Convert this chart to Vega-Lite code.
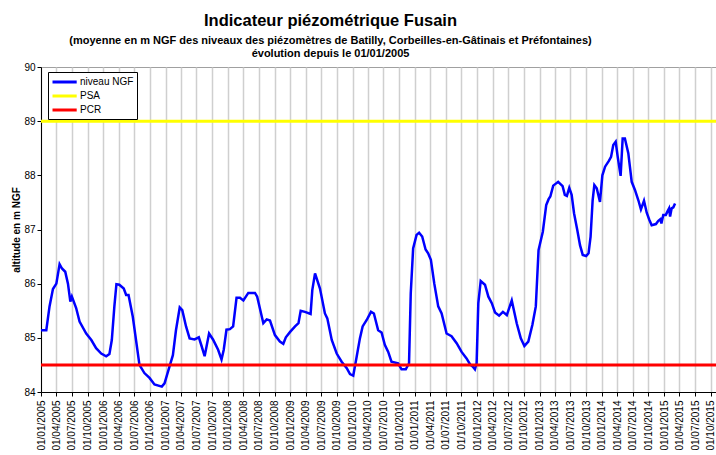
{
  "$schema": "https://vega.github.io/schema/vega-lite/v6.json",
  "width": 675,
  "height": 325,
  "autosize": {"type": "none"},
  "padding": {"left": 41, "top": 67, "right": 0, "bottom": 63},
  "background": "white",
  "config": {
    "font": "Liberation Sans",
    "view": {"stroke": "#A0A0A0", "strokeWidth": 1}
  },
  "title": {
    "text": "Indicateur piézométrique Fusain",
    "subtitle": [
      "(moyenne en m NGF des niveaux des piézomètres de Batilly, Corbeilles-en-Gâtinais et Préfontaines)",
      "évolution depuis le 01/01/2005"
    ],
    "font": "Liberation Sans",
    "subtitleFont": "Liberation Sans",
    "fontSize": 16.5,
    "fontWeight": "bold",
    "color": "black",
    "subtitleFontSize": 11,
    "subtitleFontWeight": "bold",
    "subtitleColor": "black",
    "subtitlePadding": 5,
    "subtitleLineHeight": 13.5,
    "anchor": "middle",
    "dx": -48,
    "offset": 3
  },
  "datasets": {
    "niveau": [
      {"date": "2005-01-01", "value": 85.14, "series": "niveau NGF"},
      {"date": "2005-02-01", "value": 85.14, "series": "niveau NGF"},
      {"date": "2005-02-20", "value": 85.58, "series": "niveau NGF"},
      {"date": "2005-03-12", "value": 85.90, "series": "niveau NGF"},
      {"date": "2005-04-01", "value": 86.00, "series": "niveau NGF"},
      {"date": "2005-04-20", "value": 86.36, "series": "niveau NGF"},
      {"date": "2005-05-04", "value": 86.28, "series": "niveau NGF"},
      {"date": "2005-05-23", "value": 86.22, "series": "niveau NGF"},
      {"date": "2005-06-08", "value": 86.00, "series": "niveau NGF"},
      {"date": "2005-06-22", "value": 85.67, "series": "niveau NGF"},
      {"date": "2005-07-01", "value": 85.76, "series": "niveau NGF"},
      {"date": "2005-07-26", "value": 85.55, "series": "niveau NGF"},
      {"date": "2005-08-15", "value": 85.30, "series": "niveau NGF"},
      {"date": "2005-09-23", "value": 85.08, "series": "niveau NGF"},
      {"date": "2005-10-23", "value": 84.96, "series": "niveau NGF"},
      {"date": "2005-11-20", "value": 84.81, "series": "niveau NGF"},
      {"date": "2005-12-20", "value": 84.71, "series": "niveau NGF"},
      {"date": "2006-01-18", "value": 84.66, "series": "niveau NGF"},
      {"date": "2006-02-06", "value": 84.70, "series": "niveau NGF"},
      {"date": "2006-02-20", "value": 84.96, "series": "niveau NGF"},
      {"date": "2006-03-07", "value": 85.58, "series": "niveau NGF"},
      {"date": "2006-03-19", "value": 85.99, "series": "niveau NGF"},
      {"date": "2006-04-05", "value": 85.98, "series": "niveau NGF"},
      {"date": "2006-05-01", "value": 85.91, "series": "niveau NGF"},
      {"date": "2006-05-15", "value": 85.79, "series": "niveau NGF"},
      {"date": "2006-05-29", "value": 85.79, "series": "niveau NGF"},
      {"date": "2006-06-23", "value": 85.39, "series": "niveau NGF"},
      {"date": "2006-08-01", "value": 84.50, "series": "niveau NGF"},
      {"date": "2006-08-30", "value": 84.35, "series": "niveau NGF"},
      {"date": "2006-09-29", "value": 84.26, "series": "niveau NGF"},
      {"date": "2006-10-28", "value": 84.14, "series": "niveau NGF"},
      {"date": "2006-12-10", "value": 84.10, "series": "niveau NGF"},
      {"date": "2006-12-26", "value": 84.16, "series": "niveau NGF"},
      {"date": "2007-01-24", "value": 84.47, "series": "niveau NGF"},
      {"date": "2007-02-13", "value": 84.68, "series": "niveau NGF"},
      {"date": "2007-03-03", "value": 85.14, "series": "niveau NGF"},
      {"date": "2007-03-25", "value": 85.56, "series": "niveau NGF"},
      {"date": "2007-04-09", "value": 85.51, "series": "niveau NGF"},
      {"date": "2007-05-01", "value": 85.21, "series": "niveau NGF"},
      {"date": "2007-05-22", "value": 84.99, "series": "niveau NGF"},
      {"date": "2007-06-20", "value": 84.97, "series": "niveau NGF"},
      {"date": "2007-07-15", "value": 85.01, "series": "niveau NGF"},
      {"date": "2007-08-01", "value": 84.84, "series": "niveau NGF"},
      {"date": "2007-08-18", "value": 84.66, "series": "niveau NGF"},
      {"date": "2007-09-13", "value": 85.08, "series": "niveau NGF"},
      {"date": "2007-10-06", "value": 84.97, "series": "niveau NGF"},
      {"date": "2007-11-05", "value": 84.78, "series": "niveau NGF"},
      {"date": "2007-11-25", "value": 84.60, "series": "niveau NGF"},
      {"date": "2007-12-08", "value": 84.78, "series": "niveau NGF"},
      {"date": "2007-12-24", "value": 85.15, "series": "niveau NGF"},
      {"date": "2008-01-13", "value": 85.16, "series": "niveau NGF"},
      {"date": "2008-02-01", "value": 85.21, "series": "niveau NGF"},
      {"date": "2008-02-21", "value": 85.74, "series": "niveau NGF"},
      {"date": "2008-03-12", "value": 85.74, "series": "niveau NGF"},
      {"date": "2008-04-01", "value": 85.69, "series": "niveau NGF"},
      {"date": "2008-04-30", "value": 85.83, "series": "niveau NGF"},
      {"date": "2008-06-08", "value": 85.83, "series": "niveau NGF"},
      {"date": "2008-06-21", "value": 85.76, "series": "niveau NGF"},
      {"date": "2008-07-27", "value": 85.27, "series": "niveau NGF"},
      {"date": "2008-08-16", "value": 85.34, "series": "niveau NGF"},
      {"date": "2008-09-04", "value": 85.32, "series": "niveau NGF"},
      {"date": "2008-10-03", "value": 85.05, "series": "niveau NGF"},
      {"date": "2008-11-01", "value": 84.93, "series": "niveau NGF"},
      {"date": "2008-11-21", "value": 84.89, "series": "niveau NGF"},
      {"date": "2008-12-06", "value": 85.01, "series": "niveau NGF"},
      {"date": "2008-12-31", "value": 85.11, "series": "niveau NGF"},
      {"date": "2009-01-29", "value": 85.21, "series": "niveau NGF"},
      {"date": "2009-02-18", "value": 85.27, "series": "niveau NGF"},
      {"date": "2009-03-03", "value": 85.50, "series": "niveau NGF"},
      {"date": "2009-03-28", "value": 85.48, "series": "niveau NGF"},
      {"date": "2009-04-30", "value": 85.44, "series": "niveau NGF"},
      {"date": "2009-05-10", "value": 85.88, "series": "niveau NGF"},
      {"date": "2009-05-26", "value": 86.19, "series": "niveau NGF"},
      {"date": "2009-06-24", "value": 85.91, "series": "niveau NGF"},
      {"date": "2009-07-23", "value": 85.45, "series": "niveau NGF"},
      {"date": "2009-08-06", "value": 85.36, "series": "niveau NGF"},
      {"date": "2009-09-01", "value": 84.96, "series": "niveau NGF"},
      {"date": "2009-09-30", "value": 84.71, "series": "niveau NGF"},
      {"date": "2009-10-29", "value": 84.56, "series": "niveau NGF"},
      {"date": "2009-11-28", "value": 84.44, "series": "niveau NGF"},
      {"date": "2009-12-17", "value": 84.33, "series": "niveau NGF"},
      {"date": "2010-01-05", "value": 84.30, "series": "niveau NGF"},
      {"date": "2010-01-25", "value": 84.65, "series": "niveau NGF"},
      {"date": "2010-02-13", "value": 84.99, "series": "niveau NGF"},
      {"date": "2010-03-01", "value": 85.21, "series": "niveau NGF"},
      {"date": "2010-03-25", "value": 85.33, "series": "niveau NGF"},
      {"date": "2010-04-19", "value": 85.48, "series": "niveau NGF"},
      {"date": "2010-05-06", "value": 85.45, "series": "niveau NGF"},
      {"date": "2010-05-31", "value": 85.14, "series": "niveau NGF"},
      {"date": "2010-06-20", "value": 85.10, "series": "niveau NGF"},
      {"date": "2010-07-09", "value": 84.87, "series": "niveau NGF"},
      {"date": "2010-07-29", "value": 84.74, "series": "niveau NGF"},
      {"date": "2010-08-17", "value": 84.56, "series": "niveau NGF"},
      {"date": "2010-09-25", "value": 84.53, "series": "niveau NGF"},
      {"date": "2010-10-15", "value": 84.42, "series": "niveau NGF"},
      {"date": "2010-11-09", "value": 84.42, "series": "niveau NGF"},
      {"date": "2010-11-28", "value": 84.53, "series": "niveau NGF"},
      {"date": "2010-12-08", "value": 85.82, "series": "niveau NGF"},
      {"date": "2010-12-22", "value": 86.65, "series": "niveau NGF"},
      {"date": "2011-01-11", "value": 86.90, "series": "niveau NGF"},
      {"date": "2011-01-26", "value": 86.94, "series": "niveau NGF"},
      {"date": "2011-02-13", "value": 86.87, "series": "niveau NGF"},
      {"date": "2011-03-05", "value": 86.63, "series": "niveau NGF"},
      {"date": "2011-03-20", "value": 86.56, "series": "niveau NGF"},
      {"date": "2011-04-05", "value": 86.44, "series": "niveau NGF"},
      {"date": "2011-04-25", "value": 86.00, "series": "niveau NGF"},
      {"date": "2011-05-18", "value": 85.58, "series": "niveau NGF"},
      {"date": "2011-06-07", "value": 85.45, "series": "niveau NGF"},
      {"date": "2011-07-06", "value": 85.08, "series": "niveau NGF"},
      {"date": "2011-08-04", "value": 85.03, "series": "niveau NGF"},
      {"date": "2011-09-03", "value": 84.90, "series": "niveau NGF"},
      {"date": "2011-10-02", "value": 84.74, "series": "niveau NGF"},
      {"date": "2011-10-31", "value": 84.62, "series": "niveau NGF"},
      {"date": "2011-11-21", "value": 84.51, "series": "niveau NGF"},
      {"date": "2011-12-06", "value": 84.47, "series": "niveau NGF"},
      {"date": "2011-12-19", "value": 84.42, "series": "niveau NGF"},
      {"date": "2011-12-29", "value": 84.53, "series": "niveau NGF"},
      {"date": "2012-01-08", "value": 85.64, "series": "niveau NGF"},
      {"date": "2012-01-22", "value": 86.05, "series": "niveau NGF"},
      {"date": "2012-02-16", "value": 85.98, "series": "niveau NGF"},
      {"date": "2012-03-07", "value": 85.76, "series": "niveau NGF"},
      {"date": "2012-03-27", "value": 85.64, "series": "niveau NGF"},
      {"date": "2012-04-15", "value": 85.47, "series": "niveau NGF"},
      {"date": "2012-05-09", "value": 85.41, "series": "niveau NGF"},
      {"date": "2012-05-31", "value": 85.48, "series": "niveau NGF"},
      {"date": "2012-06-23", "value": 85.42, "series": "niveau NGF"},
      {"date": "2012-07-22", "value": 85.69, "series": "niveau NGF"},
      {"date": "2012-08-20", "value": 85.27, "series": "niveau NGF"},
      {"date": "2012-09-13", "value": 84.99, "series": "niveau NGF"},
      {"date": "2012-10-04", "value": 84.85, "series": "niveau NGF"},
      {"date": "2012-10-27", "value": 84.93, "series": "niveau NGF"},
      {"date": "2012-11-20", "value": 85.24, "series": "niveau NGF"},
      {"date": "2012-12-10", "value": 85.58, "series": "niveau NGF"},
      {"date": "2012-12-26", "value": 86.62, "series": "niveau NGF"},
      {"date": "2013-01-20", "value": 86.96, "series": "niveau NGF"},
      {"date": "2013-02-09", "value": 87.45, "series": "niveau NGF"},
      {"date": "2013-02-23", "value": 87.56, "series": "niveau NGF"},
      {"date": "2013-03-05", "value": 87.61, "series": "niveau NGF"},
      {"date": "2013-03-22", "value": 87.81, "series": "niveau NGF"},
      {"date": "2013-04-20", "value": 87.88, "series": "niveau NGF"},
      {"date": "2013-05-16", "value": 87.80, "series": "niveau NGF"},
      {"date": "2013-05-29", "value": 87.64, "series": "niveau NGF"},
      {"date": "2013-06-10", "value": 87.62, "series": "niveau NGF"},
      {"date": "2013-06-24", "value": 87.77, "series": "niveau NGF"},
      {"date": "2013-07-08", "value": 87.64, "series": "niveau NGF"},
      {"date": "2013-07-22", "value": 87.30, "series": "niveau NGF"},
      {"date": "2013-08-10", "value": 86.99, "series": "niveau NGF"},
      {"date": "2013-08-26", "value": 86.71, "series": "niveau NGF"},
      {"date": "2013-09-11", "value": 86.53, "series": "niveau NGF"},
      {"date": "2013-10-01", "value": 86.51, "series": "niveau NGF"},
      {"date": "2013-10-15", "value": 86.56, "series": "niveau NGF"},
      {"date": "2013-10-27", "value": 86.87, "series": "niveau NGF"},
      {"date": "2013-11-08", "value": 87.54, "series": "niveau NGF"},
      {"date": "2013-11-18", "value": 87.82, "series": "niveau NGF"},
      {"date": "2013-12-02", "value": 87.76, "series": "niveau NGF"},
      {"date": "2013-12-21", "value": 87.51, "series": "niveau NGF"},
      {"date": "2014-01-04", "value": 88.00, "series": "niveau NGF"},
      {"date": "2014-01-20", "value": 88.16, "series": "niveau NGF"},
      {"date": "2014-02-12", "value": 88.27, "series": "niveau NGF"},
      {"date": "2014-02-24", "value": 88.34, "series": "niveau NGF"},
      {"date": "2014-03-09", "value": 88.56, "series": "niveau NGF"},
      {"date": "2014-03-23", "value": 88.62, "series": "niveau NGF"},
      {"date": "2014-04-04", "value": 88.34, "series": "niveau NGF"},
      {"date": "2014-04-21", "value": 87.99, "series": "niveau NGF"},
      {"date": "2014-05-03", "value": 88.68, "series": "niveau NGF"},
      {"date": "2014-05-16", "value": 88.68, "series": "niveau NGF"},
      {"date": "2014-06-05", "value": 88.41, "series": "niveau NGF"},
      {"date": "2014-06-25", "value": 87.88, "series": "niveau NGF"},
      {"date": "2014-07-14", "value": 87.73, "series": "niveau NGF"},
      {"date": "2014-08-03", "value": 87.54, "series": "niveau NGF"},
      {"date": "2014-08-18", "value": 87.37, "series": "niveau NGF"},
      {"date": "2014-09-05", "value": 87.53, "series": "niveau NGF"},
      {"date": "2014-09-21", "value": 87.31, "series": "niveau NGF"},
      {"date": "2014-10-06", "value": 87.18, "series": "niveau NGF"},
      {"date": "2014-10-20", "value": 87.08, "series": "niveau NGF"},
      {"date": "2014-11-14", "value": 87.10, "series": "niveau NGF"},
      {"date": "2014-11-28", "value": 87.16, "series": "niveau NGF"},
      {"date": "2014-12-10", "value": 87.19, "series": "niveau NGF"},
      {"date": "2014-12-16", "value": 87.11, "series": "niveau NGF"},
      {"date": "2014-12-27", "value": 87.27, "series": "niveau NGF"},
      {"date": "2015-01-11", "value": 87.27, "series": "niveau NGF"},
      {"date": "2015-01-20", "value": 87.33, "series": "niveau NGF"},
      {"date": "2015-01-30", "value": 87.39, "series": "niveau NGF"},
      {"date": "2015-02-05", "value": 87.24, "series": "niveau NGF"},
      {"date": "2015-02-14", "value": 87.39, "series": "niveau NGF"},
      {"date": "2015-02-24", "value": 87.41, "series": "niveau NGF"},
      {"date": "2015-03-06", "value": 87.48, "series": "niveau NGF"}
    ],
    "seuils": [
      {"series": "PSA", "value": 89},
      {"series": "PCR", "value": 84.5}
    ]
  },
  "layer": [
    {
      "data": {"name": "niveau"},
      "mark": {"type": "line", "strokeWidth": 2.5},
      "encoding": {
        "x": {
          "field": "date",
          "type": "temporal",
          "scale": {
            "type": "utc",
            "domain": [
              {"year": 2005, "month": 1, "date": 1, "utc": true},
              {"year": 2015, "month": 11, "date": 1, "utc": true}
            ]
          },
          "axis": {
            "title": null,
            "format": "%d/%m/%Y",
            "tickCount": {"interval": "month", "step": 3},
            "labelAngle": 270,
            "labelAlign": "right",
            "labelBaseline": "middle",
            "labelFontSize": 10,
            "labelColor": "black",
            "labelPadding": 4,
            "labelOverlap": false,
            "labelBound": false,
            "labelFlush": false,
            "tickColor": "black",
            "tickSize": 4,
            "domainColor": "black",
            "domainWidth": 1,
            "grid": true,
            "gridColor": "#CFCFCF",
            "gridWidth": 1.5
          }
        },
        "y": {
          "field": "value",
          "type": "quantitative",
          "scale": {"domain": [84, 90], "nice": false, "zero": false},
          "axis": {
            "title": "altitude en m NGF",
            "titleFontSize": 10,
            "titleFontWeight": "bold",
            "titleColor": "black",
            "titlePadding": 2,
            "format": "d",
            "values": [84, 85, 86, 87, 88, 89, 90],
            "grid": false,
            "labelFontSize": 10,
            "labelColor": "black",
            "labelPadding": 2,
            "tickColor": "black",
            "tickSize": 4,
            "domainColor": "black"
          }
        },
        "color": {
          "field": "series",
          "type": "nominal",
          "scale": {
            "domain": ["niveau NGF", "PSA", "PCR"],
            "range": ["#0000FF", "#FFFF00", "#FF0000"]
          },
          "legend": {
            "title": null,
            "orient": "none",
            "legendX": 7,
            "legendY": 5,
            "symbolType": "M-1,0H3.4",
            "symbolSize": 121,
            "symbolStrokeWidth": 3,
            "labelFontSize": 10,
            "labelColor": "black",
            "labelOffset": 15,
            "strokeColor": "black",
            "fillColor": "white",
            "padding": 3,
            "rowPadding": 1
          }
        }
      }
    },
    {
      "data": {"name": "seuils"},
      "mark": {"type": "rule", "strokeWidth": 3},
      "encoding": {
        "y": {"field": "value", "type": "quantitative"},
        "color": {"field": "series", "type": "nominal"}
      }
    }
  ]
}
